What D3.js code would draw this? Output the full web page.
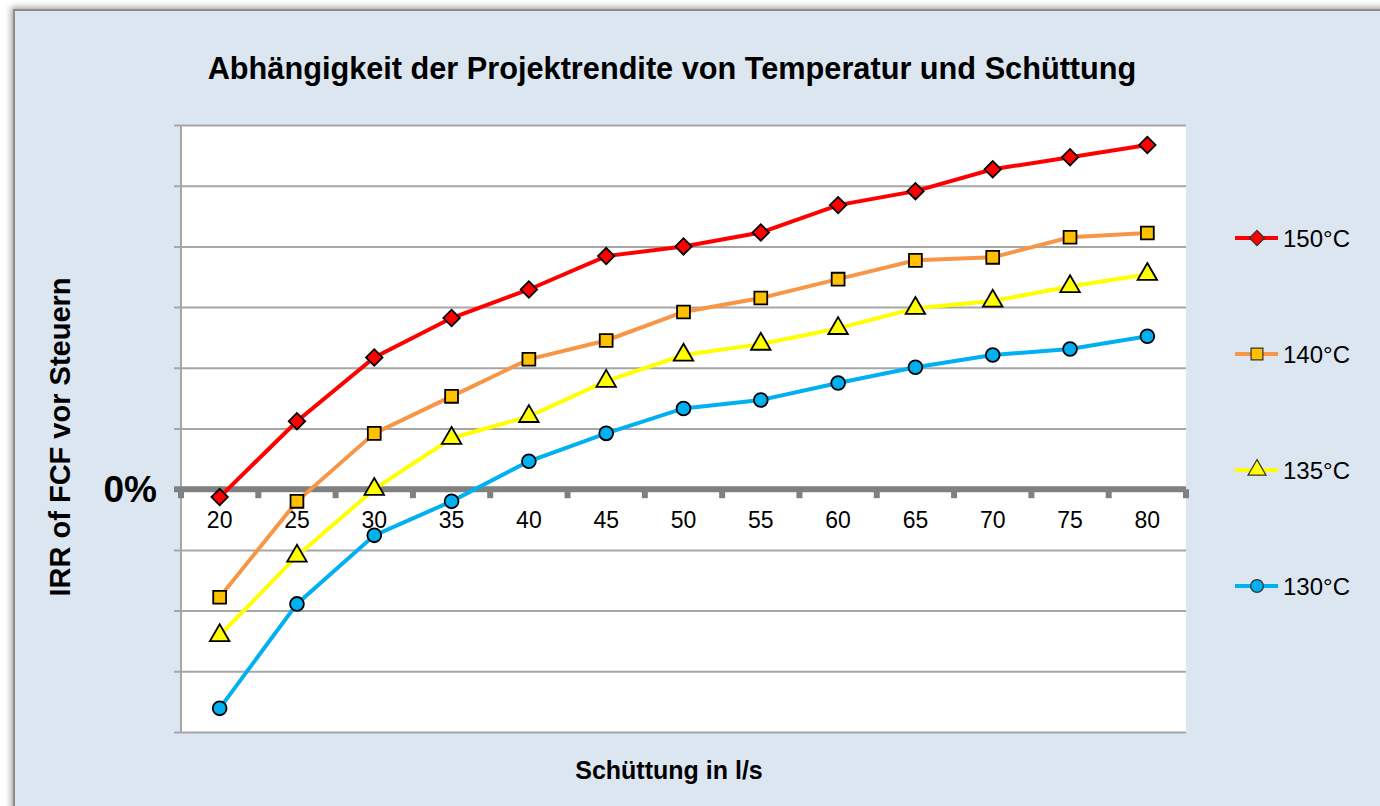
<!DOCTYPE html>
<html>
<head>
<meta charset="utf-8">
<script src="https://cdn.jsdelivr.net/npm/d3@7"></script>
<style>
  body { margin: 0; background: #fff; }
  svg { display: block; font-family: Arial, "Liberation Sans", sans-serif; }
</style>
</head>
<body>
<div id="chart-area"></div>
<script>
// Schüttung categories (x axis)
let flows = ["20", "25", "30", "35", "40", "45", "50", "55", "60", "65", "70", "75", "80"];

// IRR values per temperature (grid units, 0 = 0%)
let irr150 = [-0.13, 1.12, 2.17, 2.82, 3.29, 3.84, 4.0, 4.23, 4.68, 4.91, 5.27, 5.47, 5.67];
let irr140 = [-1.78, -0.2, 0.92, 1.53, 2.14, 2.45, 2.92, 3.15, 3.46, 3.77, 3.82, 4.15, 4.22];
let irr135 = [-2.41, -1.1, 0.0, 0.84, 1.2, 1.78, 2.21, 2.39, 2.65, 2.98, 3.1, 3.34, 3.54];
let irr130 = [-3.61, -1.89, -0.76, -0.2, 0.46, 0.92, 1.33, 1.47, 1.75, 2.01, 2.21, 2.31, 2.52];

let seriesNames = ["150°C", "140°C", "135°C", "130°C"];
let yDomain = [-4, 6];
let gridValues = d3.range(-4, 7, 1);

let series = [
	{name: seriesNames[0], values: irr150, line: "#ff0000", fill: "#ff0000", symbol: d3.symbolSquare, size: 135, rotate: 45},
	{name: seriesNames[1], values: irr140, line: "#f79646", fill: "#ffc000", symbol: d3.symbolSquare, size: 165, rotate: 0},
	{name: seriesNames[2], values: irr135, line: "#ffff00", fill: "#ffff00", symbol: d3.symbolTriangle, size: 165, rotate: 0},
	{name: seriesNames[3], values: irr130, line: "#00b0f0", fill: "#00b0f0", symbol: d3.symbolCircle, size: 150, rotate: 0}
];

let W = 1380, H = 806;
let plot = {left: 181, right: 1186, top: 125, bottom: 732};

let svg = d3.select("#chart-area")
	.append("svg")
	.attr("width", W)
	.attr("height", H);

let defs = svg.append("defs");
let shadow = defs.append("filter").attr("id", "shadow")
	.attr("x", "-5%").attr("y", "-5%").attr("width", "110%").attr("height", "110%");
shadow.append("feDropShadow").attr("dx", -2).attr("dy", -2).attr("stdDeviation", 3)
	.attr("flood-color", "#000").attr("flood-opacity", 0.35);

// Outer chart frame
svg.append("rect")
	.attr("x", 14).attr("y", 10)
	.attr("width", W + 20).attr("height", H + 20)
	.attr("fill", "#dce6f1")
	.attr("stroke", "#8c8c8c")
	.attr("stroke-width", 2)
	.attr("filter", "url(#shadow)");

// Plot area
svg.append("rect")
	.attr("x", plot.left).attr("y", plot.top)
	.attr("width", plot.right - plot.left).attr("height", plot.bottom - plot.top)
	.attr("fill", "#fff");

let x = d3.scaleBand()
	.domain(flows)
	.range([plot.left, plot.right]);

let y = d3.scaleLinear()
	.domain(yDomain)
	.range([plot.bottom, plot.top]);

// Horizontal gridlines + y ticks
let yAxis = d3.axisLeft(y)
	.tickValues(gridValues)
	.tickSize(plot.right - plot.left + 7)
	.tickFormat("");

let yAxisGroup = svg.append("g")
	.attr("class", "axis y-axis")
	.attr("transform", "translate(" + plot.right + ",0)")
	.call(yAxis);
yAxisGroup.select(".domain").remove();
yAxisGroup.selectAll("line")
	.attr("stroke", "#a6a6a6")
	.attr("stroke-width", 2);

// Vertical axis line
svg.append("line")
	.attr("x1", plot.left).attr("x2", plot.left)
	.attr("y1", plot.top).attr("y2", plot.bottom)
	.attr("stroke", "#a6a6a6")
	.attr("stroke-width", 2);

// Category axis along 0%
let xAxis = d3.axisBottom(x)
	.tickSize(0)
	.tickPadding(22);

let xAxisGroup = svg.append("g")
	.attr("class", "axis x-axis")
	.attr("transform", "translate(0," + y(0) + ")")
	.call(xAxis);
xAxisGroup.select(".domain").remove();
xAxisGroup.selectAll("text")
	.attr("font-size", 23)
	.attr("font-family", "Arial, 'Liberation Sans', sans-serif")
	.attr("fill", "#000");

// Thick zero line with category boundary ticks
svg.append("line")
	.attr("x1", plot.left - 7).attr("x2", plot.right)
	.attr("y1", y(0)).attr("y2", y(0))
	.attr("stroke", "#808080")
	.attr("stroke-width", 6);

svg.append("g").selectAll("line")
	.data(flows.concat(["end"]))
	.enter()
	.append("line")
	.attr("x1", (d, i) => plot.left + i * x.bandwidth())
	.attr("x2", (d, i) => plot.left + i * x.bandwidth())
	.attr("y1", y(0))
	.attr("y2", y(0) + 9)
	.attr("stroke", "#808080")
	.attr("stroke-width", 6);

// Lines
let line = d3.line()
	.x((d, i) => x(flows[i]) + x.bandwidth() / 2)
	.y(d => y(d));

let seriesGroup = svg.append("g");
series.slice().reverse().forEach(s => {
	seriesGroup.append("path")
		.datum(s.values)
		.attr("d", line)
		.attr("fill", "none")
		.attr("stroke", s.line)
		.attr("stroke-width", 4);
});
series.slice().reverse().forEach(s => {
	seriesGroup.selectAll(null)
		.data(s.values)
		.enter()
		.append("path")
		.attr("d", d3.symbol().type(s.symbol).size(s.size))
		.attr("transform", (d, i) => "translate(" + (x(flows[i]) + x.bandwidth() / 2) + "," + y(d) + ") rotate(" + s.rotate + ")")
		.attr("fill", s.fill)
		.attr("stroke", "#000")
		.attr("stroke-width", 1.8);
});

// Legend
let legendY = d3.scalePoint()
	.domain(seriesNames)
	.range([238, 586]);

let legend = svg.append("g");
series.forEach(s => {
	let g = legend.append("g")
		.attr("transform", "translate(0," + legendY(s.name) + ")");
	g.append("line")
		.attr("x1", 1235).attr("x2", 1278)
		.attr("stroke", s.line)
		.attr("stroke-width", 4);
	g.append("path")
		.attr("d", d3.symbol().type(s.symbol).size(s.size * 0.85))
		.attr("transform", "translate(1257,0) rotate(" + s.rotate + ")")
		.attr("fill", s.fill)
		.attr("stroke", "#333")
		.attr("stroke-width", 1.2);
	g.append("text")
		.attr("x", 1283)
		.attr("y", 9)
		.attr("font-size", 24)
		.attr("fill", "#000")
		.text(s.name);
});

// Titles
svg.append("text")
	.attr("x", 672)
	.attr("y", 79)
	.attr("text-anchor", "middle")
	.attr("font-size", 30.7)
	.attr("font-weight", "bold")
	.text("Abhängigkeit der Projektrendite von Temperatur und Schüttung");

svg.append("text")
	.attr("transform", "translate(70,437) rotate(-90)")
	.attr("text-anchor", "middle")
	.attr("font-size", 29)
	.attr("font-weight", "bold")
	.text("IRR of FCF vor Steuern");

svg.append("text")
	.attr("x", 157)
	.attr("y", y(0) + 13)
	.attr("text-anchor", "end")
	.attr("font-size", 37)
	.attr("font-weight", "bold")
	.text("0%");

svg.append("text")
	.attr("x", 669)
	.attr("y", 779)
	.attr("text-anchor", "middle")
	.attr("font-size", 25)
	.attr("font-weight", "bold")
	.text("Schüttung in l/s");
</script>
</body>
</html>
